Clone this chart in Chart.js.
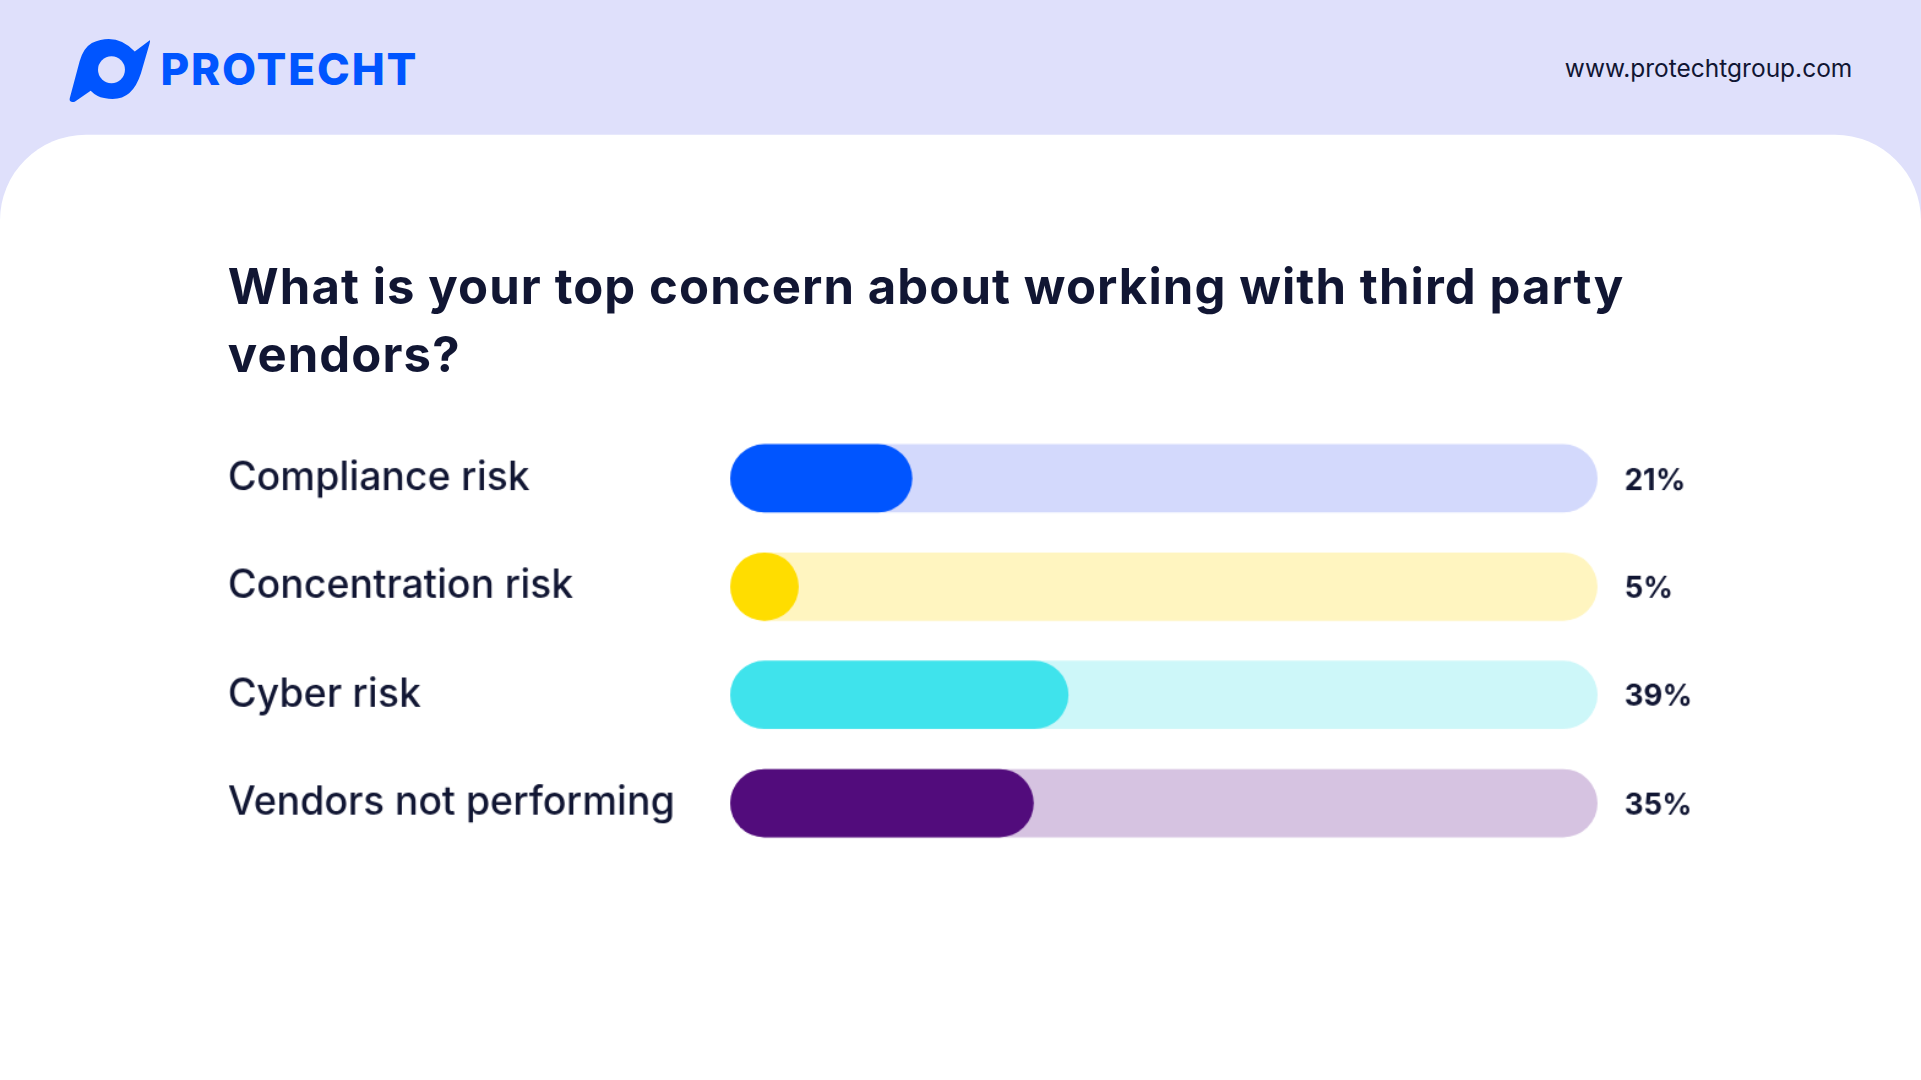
<!DOCTYPE html>
<html><head><meta charset="utf-8">
<script src="https://cdn.jsdelivr.net/npm/chart.js@4"></script>
<style>
html,body{margin:0;padding:0;background:#fff;overflow:hidden}
#wrap{position:absolute;left:0;top:0;width:1568px;height:882px;transform:scale(1.2251);transform-origin:0 0;background:#dfe0fb;font-family:Inter,"Open Sans",sans-serif}
#card{position:absolute;left:0;top:110px;width:1568px;height:772px;background:#fff;border-radius:70px 70px 0 0}
#logo{position:absolute;left:55px;top:30px}
#brand{position:absolute;left:131px;top:34px;font-size:36px;font-weight:800;color:#0055ff;letter-spacing:1.5px;font-family:Inter,sans-serif}
#url{position:absolute;right:56px;top:44px;font-size:20px;color:#111633}
#title{position:absolute;left:186px;top:206px;width:1250px;font-size:40px;font-weight:700;color:#111633;line-height:56px;letter-spacing:0.9px}
#cv{position:absolute;left:186px;top:327px;width:1208px;height:392px}
</style></head><body>
<div id="wrap">
<div id="card"></div>
<svg id="logo" width="70" height="55" viewBox="0 0 70 55">
<path d="M20 5 Q40 -4 55 12 L67 3 Q68 2 67 6 L60 30 Q52 55 30 50 Q24 49 19 44 L6 53 Q1 54 2 50 L10 20 Q13 9 20 5 Z" fill="#0055ff"/>
<circle cx="36" cy="27" r="11" fill="#dfe0fb"/>
</svg>
<div id="brand">PROTECHT</div>
<div id="url">www.protechtgroup.com</div>
<div id="title">What is your top concern about working with third party vendors?</div>
<div id="cv"><canvas id="c"></canvas></div>
</div>
<script>
const categories=["Compliance risk","Concentration risk","Cyber risk","Vendors not performing"];
const values=[21,5,39,35];
const fillColors=["#0055ff","#ffdd00","#3fe3ec","#520c7c"];
const trackColors=["#d3d9fc","#fff5c0","#cdf7f9","#d6c3e1"];
const trackValues=[100,100,100,100];
const valueLabels={id:'vl',afterDatasetsDraw(ch){const ctx=ch.ctx;const m=ch.getDatasetMeta(1);ctx.save();ctx.font='700 24px Inter, sans-serif';ctx.fillStyle='#111633';ctx.textBaseline='middle';m.data.forEach((b,i)=>{ctx.fillText(values[i]+'%',ch.chartArea.right+22,b.y+2);});ctx.restore();}};
new Chart(document.getElementById('c'),{type:'bar',
data:{labels:categories,datasets:[
{data:values,backgroundColor:fillColors,order:0,grouped:false,borderRadius:28,borderSkipped:false,minBarLength:56,barPercentage:0.63,categoryPercentage:1},
{data:trackValues,backgroundColor:trackColors,order:1,grouped:false,borderRadius:28,borderSkipped:false,barPercentage:0.63,categoryPercentage:1}]},
options:{indexAxis:'y',responsive:true,maintainAspectRatio:false,animation:false,
layout:{padding:{right:90,top:0,bottom:0}},
plugins:{legend:{display:false},tooltip:{enabled:false}},
scales:{x:{display:false,min:0,max:100},
y:{grid:{display:false},border:{display:false},afterFit(s){s.width=410;},
ticks:{crossAlign:'far',padding:0,color:'#111633',font:{size:32,weight:'500',family:'Inter, sans-serif'}}}}},
plugins:[valueLabels]});
</script>
</body></html>
